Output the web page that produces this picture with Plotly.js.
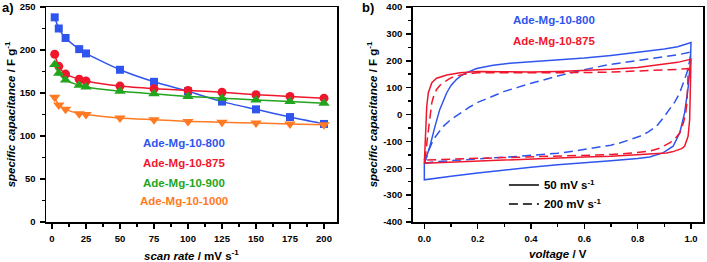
<!DOCTYPE html>
<html>
<head>
<meta charset="utf-8">
<script src="https://cdn.plot.ly/plotly-3.0.1.min.js"></script>
<style>html,body{margin:0;padding:0;background:#fff;}#chart{width:707px;height:262px;}</style>
</head>
<body>
<div id="chart"></div>
<script>
// ---------- Panel a: specific capacitance vs scan rate ----------
const scanRates = [2, 5, 10, 20, 25, 50, 75, 100, 125, 150, 175, 200];
const cap800  = [238, 225, 214, 201, 196, 177, 163, 152, 140, 131, 122, 114];
const cap875  = [195, 181, 172, 166, 164, 158, 155, 153, 151, 148, 146, 144];
const cap900  = [183, 173, 165, 159, 157, 152, 149, 146, 144, 142, 140, 138];
const cap1000 = [145, 136, 131, 126, 125, 121, 119, 117, 116, 115, 114, 113];
const seriesNamesA = ['Ade-Mg-10-800', 'Ade-Mg-10-875', 'Ade-Mg-10-900', 'Ade-Mg-10-1000'];
const xTicksA = [0, 25, 50, 75, 100, 125, 150, 175, 200];
const yTicksA = [0, 50, 100, 150, 200, 250];

// ---------- Panel b: cyclic voltammograms ----------
const v800_50 = [0, 0.01, 0.021, 0.04, 0.058, 0.084, 0.1, 0.121, 0.14, 0.159, 0.196, 0.258, 0.321, 0.4, 0.5, 0.6, 0.7, 0.8, 0.9, 0.95, 1.0,
                 0.998, 0.99, 0.976, 0.958, 0.933, 0.895, 0.845, 0.8, 0.7, 0.6, 0.5, 0.4, 0.3, 0.2, 0.1, 0.0, 0.0];
const i800_50 = [-181, -150, -118, -44, 19, 81, 108, 131, 146, 156, 171, 183, 191, 196, 203, 210, 220, 231, 244, 252, 268,
                 200, 106, 6, -68, -118, -143, -158, -164, -172, -179, -187, -196, -206, -218, -230, -243, -181];
const v800_200 = [0, 0.01, 0.02, 0.034, 0.05, 0.071, 0.1, 0.134, 0.17, 0.2, 0.25, 0.3, 0.35, 0.4, 0.5, 0.6, 0.7, 0.8, 0.9, 0.95, 1.0,
                  0.995, 0.985, 0.97, 0.958, 0.94, 0.92, 0.895, 0.87, 0.84, 0.808, 0.77, 0.733, 0.7, 0.658, 0.6, 0.558, 0.5, 0.433, 0.35, 0.309, 0.246, 0.15, 0.05, 0];
const i800_200 = [-183, -150, -125, -93, -70, -44, -18, 6, 28, 45, 66, 86, 101, 116, 143, 167, 187, 200, 214, 222, 233,
                  200, 156, 115, 81, 48, 19, -14, -44, -65, -81, -95, -106, -114, -121, -131, -137, -144, -150, -156, -158, -162, -168, -175, -181];
const v875_50 = [0, 0.003, 0.006, 0.009, 0.015, 0.028, 0.046, 0.065, 0.084, 0.134, 0.2, 0.3, 0.4, 0.5, 0.6, 0.7, 0.8, 0.9, 0.95, 1.0,
                 0.998, 0.995, 0.989, 0.982, 0.976, 0.965, 0.95, 0.93, 0.908, 0.85, 0.783, 0.7, 0.6, 0.5, 0.4, 0.3, 0.2, 0.1, 0];
const i875_50 = [-181, -120, -40, 30, 81, 118, 135, 142, 147, 155, 160, 159, 158, 160, 163, 168, 175, 186, 194, 206,
                 106, -19, -81, -105, -118, -127, -133, -139, -143, -147, -150, -155, -158, -162, -165, -168, -172, -176, -181];
const v875_200 = [0, 0.005, 0.01, 0.015, 0.02, 0.028, 0.036, 0.046, 0.058, 0.071, 0.09, 0.109, 0.15, 0.196, 0.3, 0.4, 0.5, 0.6, 0.7, 0.8, 0.9, 0.95, 0.99,
                  0.988, 0.985, 0.98, 0.972, 0.958, 0.94, 0.92, 0.9, 0.883, 0.85, 0.783, 0.7, 0.658, 0.5, 0.4, 0.3, 0.2, 0.1, 0];
const i875_200 = [-170, -150, -100, -56, -10, 44, 72, 93, 108, 118, 131, 141, 150, 155, 155, 155, 155, 156, 158, 161, 165, 168, 171,
                  106, 44, 5, -30, -68, -90, -106, -117, -125, -135, -143, -149, -150, -156, -158, -160, -163, -166, -170];
const seriesNamesB = ['Ade-Mg-10-800', 'Ade-Mg-10-875'];
const rateLabels = ['50 mV s<sup>-1</sup>', '200 mV s<sup>-1</sup>'];
const xTicksB = [0, 0.2, 0.4, 0.6, 0.8, 1.0];
const yTicksB = [-400, -300, -200, -100, 0, 100, 200, 300, 400];
const yTickTextB = ['-400', '-300', '-200', '-100', '0', '100', '200', '300', '400'];

// ---------- styles ----------
const BLUE = '#2f55ee', RED = '#f0172d', GREEN = '#22a51c', ORANGE = '#ff7a22';
const FONT = 'Arial, "Liberation Sans", sans-serif';

const traces = [];
const dataA = [cap800, cap875, cap900, cap1000];
const colA = [BLUE, RED, GREEN, ORANGE];
const symA = ['square', 'circle', 'triangle-up', 'triangle-down'];
const sizeA = [8, 9, 10, 10];
dataA.forEach((arr, k) => {
  traces.push({
    x: scanRates, y: arr, xaxis: 'x', yaxis: 'y', type: 'scatter', mode: 'lines+markers',
    name: seriesNamesA[k], showlegend: false,
    line: {color: colA[k], width: 1.5, shape: 'spline', smoothing: 0.6},
    marker: {color: colA[k], symbol: symA[k], size: sizeA[k]}
  });
});

const dashStyle = '9px,5px';
const cv = [
  {x: v800_50, y: i800_50, c: BLUE, d: 'solid', n: seriesNamesB[0]},
  {x: v800_200, y: i800_200, c: BLUE, d: dashStyle, n: seriesNamesB[0]},
  {x: v875_50, y: i875_50, c: RED, d: 'solid', n: seriesNamesB[1]},
  {x: v875_200, y: i875_200, c: RED, d: dashStyle, n: seriesNamesB[1]}
];
cv.forEach(s => {
  traces.push({x: s.x, y: s.y, xaxis: 'x2', yaxis: 'y2', type: 'scatter', mode: 'lines',
    name: s.n, showlegend: false, line: {color: s.c, width: 1.5, dash: s.d}});
});
// legend entries for scan rates (black samples)
traces.push({x: [null], y: [null], xaxis: 'x2', yaxis: 'y2', type: 'scatter', mode: 'lines',
  name: '<b>' + rateLabels[0] + '</b>', line: {color: 'black', width: 1.5}});
traces.push({x: [null], y: [null], xaxis: 'x2', yaxis: 'y2', type: 'scatter', mode: 'lines',
  name: '<b>' + rateLabels[1] + '</b>', line: {color: 'black', width: 1.5, dash: dashStyle}});

const axisCommon = {
  showline: true, linecolor: 'black', linewidth: 1.5, mirror: true,
  ticks: 'outside', ticklen: 5, tickwidth: 1.5, tickcolor: 'black',
  showgrid: false, zeroline: false,
  tickfont: {family: FONT, size: 9.5, color: 'black', weight: 'bold'},
  ticklabelstandoff: 2
};

function label(xref, yref, x, y, text, color) {
  return {xref: xref, yref: yref, x: x, y: y, xanchor: 'center', yanchor: 'middle',
    text: '<b>' + text + '</b>', showarrow: false, font: {size: 11.5, color: color, family: FONT}};
}

const layout = {
  width: 707, height: 262,
  margin: {l: 46, r: 4, t: 7, b: 40},
  paper_bgcolor: 'white', plot_bgcolor: 'white',
  font: {family: FONT, color: 'black'},
  showlegend: true,
  legend: {x: 0.697, xanchor: 'left', y: 0.24, yanchor: 'top', bgcolor: 'rgba(0,0,0,0)',
           font: {family: FONT, size: 11.5, color: 'black', weight: 'bold'}, tracegroupgap: 0, itemwidth: 30},
  xaxis: Object.assign({}, axisCommon, {domain: [0, 0.443], range: [-4.4, 209.6], tickvals: xTicksA,
    minor: {dtick: 12.5, ticks: 'outside', ticklen: 3, tickwidth: 1.5, tickcolor: 'black'}}),
  yaxis: Object.assign({}, axisCommon, {domain: [0, 1], range: [0, 250], tickvals: yTicksA,
    minor: {dtick: 25, ticks: 'outside', ticklen: 3, tickwidth: 1.5, tickcolor: 'black'}}),
  xaxis2: Object.assign({}, axisCommon, {anchor: 'y2', domain: [0.558, 1], range: [-0.044, 1.045], tickvals: xTicksB, tickformat: '.1f',
    minor: {dtick: 0.1, ticks: 'outside', ticklen: 3, tickwidth: 1.5, tickcolor: 'black'}}),
  yaxis2: Object.assign({}, axisCommon, {anchor: 'x2', domain: [0, 1], range: [-400, 400], tickvals: yTicksB, ticktext: yTickTextB,
    minor: {dtick: 50, ticks: 'outside', ticklen: 3, tickwidth: 1.5, tickcolor: 'black'}}),
  annotations: [
    // panel letters
    {xref: 'paper', yref: 'paper', x: -0.07, y: 1.0, xanchor: 'left', yanchor: 'middle', text: '<b>a)</b>', showarrow: false, font: {size: 13, family: FONT}},
    {xref: 'paper', yref: 'paper', x: 0.478, y: 1.0, xanchor: 'left', yanchor: 'middle', text: '<b>b)</b>', showarrow: false, font: {size: 13, family: FONT}},
    // axis titles
    {xref: 'x domain', yref: 'paper', x: 0.5, y: -0.153, xanchor: 'center', yanchor: 'middle', text: '<b><i>scan rate</i> / mV s<sup>-1</sup></b>', showarrow: false, font: {size: 11.5, family: FONT}},
    {xref: 'x2 domain', yref: 'paper', x: 0.5, y: -0.148, xanchor: 'center', yanchor: 'middle', text: '<b><i>voltage</i> / V</b>', showarrow: false, font: {size: 11.5, family: FONT}},
    {xref: 'paper', yref: 'paper', x: -0.055, y: 0.5, xanchor: 'center', yanchor: 'middle', textangle: -90, text: '<b><i>specific capacitance</i> / F g<sup>-1</sup></b>', showarrow: false, font: {size: 11.5, family: FONT}},
    {xref: 'paper', yref: 'paper', x: 0.496, y: 0.5, xanchor: 'center', yanchor: 'middle', textangle: -90, text: '<b><i>specific capacitance</i> / F g<sup>-1</sup></b>', showarrow: false, font: {size: 11.5, family: FONT}},
    // panel a series labels
    label('x domain', 'y domain', 0.474, 0.367, seriesNamesA[0], BLUE),
    label('x domain', 'y domain', 0.474, 0.274, seriesNamesA[1], RED),
    label('x domain', 'y domain', 0.474, 0.181, seriesNamesA[2], GREEN),
    label('x domain', 'y domain', 0.474, 0.098, seriesNamesA[3], ORANGE),
    // panel b series labels
    label('x2 domain', 'y2 domain', 0.487, 0.94, seriesNamesB[0], BLUE),
    label('x2 domain', 'y2 domain', 0.487, 0.842, seriesNamesB[1], RED)
  ]
};

Plotly.newPlot('chart', traces, layout, {staticPlot: true, displayModeBar: false});
</script>
</body>
</html>
